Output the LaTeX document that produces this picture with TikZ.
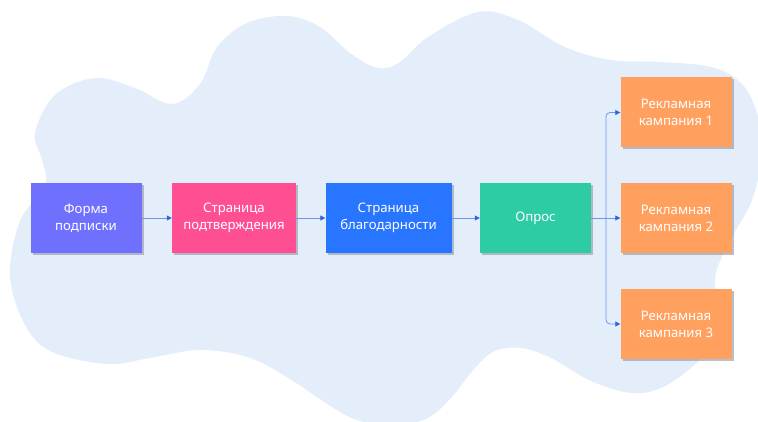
\documentclass[tikz,border=0pt]{standalone}
\usepackage{fontspec}
\setmainfont{Noto Sans}
\usetikzlibrary{arrows.meta,shadows}

\definecolor{blobblue}{HTML}{E4EEFA}
\definecolor{cviolet}{HTML}{7070FF}
\definecolor{cpink}{HTML}{FF4F93}
\definecolor{cblue}{HTML}{2875FF}
\definecolor{cgreen}{HTML}{2ECCA4}
\definecolor{corange}{HTML}{FFA05E}
\definecolor{cline}{HTML}{6E96F0}
\definecolor{ctip}{HTML}{2E66E0}
\definecolor{cshadow}{HTML}{9AA2B4}

\tikzset{
  stage/.style={
    inner sep=0pt, minimum height=70pt, align=center,
    text=white, font=\fontsize{13.2}{16.8}\selectfont,
    drop shadow={shadow xshift=2pt, shadow yshift=-2pt, fill=cshadow, opacity=0.7}
  },
  link/.style={draw=cline, line width=0.8pt,
    -{Triangle[length=5pt,width=5pt,color=ctip,fill=ctip]}},
}

\begin{document}
\begin{tikzpicture}[x=1pt,y=-1pt]
\useasboundingbox (0,0) rectangle (758,422);

% soft cloud behind the flow
\fill[blobblue] plot[smooth cycle, tension=0.6] coordinates {
  (35,133) (55,95) (95,78) (135,88) (172,104) (200,84) (217,47) (247,23)
  (287,16) (320,27) (350,53) (378,68) (400,62) (428,37) (478,12) (518,20)
  (565,47) (611,60) (661,62) (711,67) (740,82) (756,110) (762,150) (752,200)
  (728,244) (715,278) (718,311) (705,351) (691,368) (661,388) (631,393)
  (591,381) (551,358) (521,348) (495,351) (475,368) (451,398) (428,418)
  (400,424) (360,421) (327,404) (293,381) (250,358) (200,350) (150,358)
  (107,364) (50,351) (23,321) (10,274) (20,221) (45,185) (42,160)
};

% funnel stages
\node[stage, fill=cviolet, minimum width=111pt] (form)   at (86,218)    {Форма\\подписки};
\node[stage, fill=cpink,   minimum width=124pt] (confirm) at (234,218)  {Страница\\подтверждения};
\node[stage, fill=cblue,   minimum width=126pt] (thanks) at (388.5,218) {Страница\\благодарности};
\node[stage, fill=cgreen,  minimum width=111pt] (survey) at (535.5,218) {Опрос};

% advertising campaigns
\node[stage, fill=corange, minimum width=111pt] (ad1) at (676,112.5) {Рекламная\\кампания 1};
\node[stage, fill=corange, minimum width=111pt] (ad2) at (676,218)   {Рекламная\\кампания 2};
\node[stage, fill=corange, minimum width=111pt] (ad3) at (676,324)   {Рекламная\\кампания 3};

% connectors
\draw[link] (form) -- (confirm);
\draw[link] (confirm) -- (thanks);
\draw[link] (thanks) -- (survey);
\draw[link] (survey) -- (ad2);

\coordinate (split) at (606,218);
\draw[link, rounded corners=4pt] (split) |- (ad1);
\draw[link, rounded corners=4pt] (split) |- (ad3);
\end{tikzpicture}
\end{document}
